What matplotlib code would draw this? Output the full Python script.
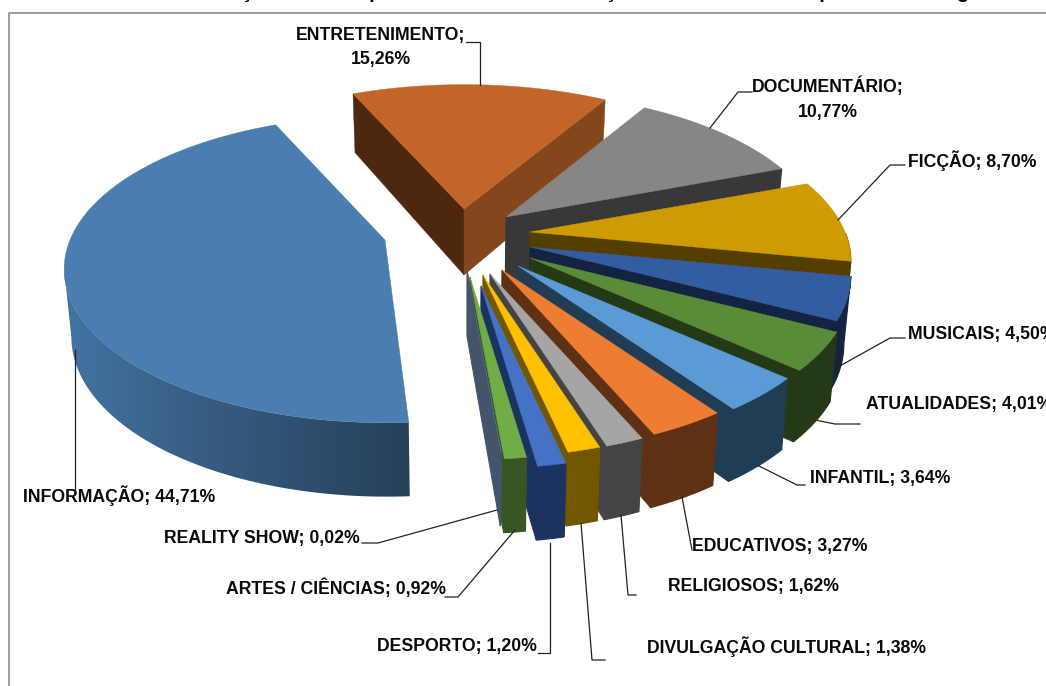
import numpy as np
import matplotlib
matplotlib.use("Agg")
import matplotlib.pyplot as plt
from matplotlib.patches import Polygon
from matplotlib.colors import LinearSegmentedColormap

categories = ["INFORMAÇÃO", "ENTRETENIMENTO", "DOCUMENTÁRIO", "FICÇÃO", "MUSICAIS",
              "ATUALIDADES", "INFANTIL", "EDUCATIVOS", "RELIGIOSOS",
              "DIVULGAÇÃO CULTURAL", "DESPORTO", "ARTES / CIÊNCIAS", "REALITY SHOW"]
values = [44.71, 15.26, 10.77, 8.70, 4.50, 4.01, 3.64, 3.27, 1.62, 1.38, 1.20, 0.92, 0.02]

top_colors = ["#4A7EB0", "#C26528", "#868686", "#CF9B00", "#345CA1", "#5A8B38", "#5B9BD5",
              "#ED7D31", "#A5A5A5", "#FFC000", "#4472C4", "#70AD47", "#5B6B80"]
wall_colors = ["#2F5272", "#84461B", "#383838", "#553F00", "#14233F", "#243916", "#213D54",
               "#5F3114", "#444444", "#725600", "#1C3360", "#375623", "#44546A"]
apexes = [(385, 240), (464, 209), (506, 217), (530, 232), (530, 247), (530, 258), (518, 266),
          (502, 270), (490, 274), (483, 275), (481, 286), (470, 277), (467, 270)]
slice_scale = [1.0, 1.015, 0.995, 1.0, 1.0, 1.0, 1.0, 1.0, 1.0, 1.0, 1.0, 1.0, 1.0]

START = 175.0
INFO_TRIM = 1.5
R, RY, K = 315.0, 148.0, 0.19
DEPTH, DEPTH_K, CONV = 66.0, 0.12, 0.018

fig = plt.figure(figsize=(10.46, 6.86), dpi=100)
ax = fig.add_axes([0, 0, 1, 1])
ax.set_xlim(0, 1046)
ax.set_ylim(686, 0)
ax.axis("off")
plt.rcParams["font.family"] = ["Liberation Sans"]


def project(apex, deg, scale):
    t = np.radians(deg)
    u, v = np.sin(t), np.cos(t)
    s = 1 / (1 + K * v)
    return apex[0] + scale * s * R * u, apex[1] - s * RY * v, v


def lower(x, y, v):
    return x - CONV * (x - 465), y + DEPTH * (1 - DEPTH_K * v)


ends = np.cumsum(values) / sum(values) * 360 + START
starts = np.concatenate([[START], ends[:-1]])
info_cmap = LinearSegmentedColormap.from_list("info", ["#4275A3", "#3A6088", "#2F5070", "#264058"])

for i in range(len(values)):
    a0, a1 = starts[i], ends[i]
    if i == 0:
        a0 += INFO_TRIM
    apex = apexes[i]
    angs = np.linspace(a0, a1, max(3, int((a1 - a0) * 1.5)))
    pts = [project(apex, a, slice_scale[i]) for a in angs]
    ax_b = lower(apex[0], apex[1], 0)

    # outer wall, only where it faces the viewer
    if i == 0:
        # silhouette: upper arc to its leftmost point, tangent to the lower arc's leftmost point
        left_up = int(np.argmin([p[0] for p in pts]))
        low_pts = [lower(*p) for p in pts]
        left_low = int(np.argmin([p[0] for p in low_pts]))
        outline = [p[:2] for p in pts[:left_up + 1]] + low_pts[left_low::-1]
        poly = Polygon(outline, closed=True, fc="none", ec="none", transform=ax.transData)
        ax.add_patch(poly)
        xs = [o[0] for o in outline]
        ys = [o[1] for o in outline]
        im = ax.imshow(np.linspace(0, 1, 256)[None, :], extent=(min(xs), max(xs), max(ys), min(ys)),
                       cmap=info_cmap, aspect="auto", zorder=2)
        im.set_clip_path(poly)
        ax.set_xlim(0, 1046)
        ax.set_ylim(686, 0)
    else:
        vis = [p for p, a in zip(pts, angs) if 90 <= (a % 360) <= 270]
        if len(vis) > 1:
            outline = [p[:2] for p in vis] + [lower(*p) for p in vis[::-1]]
            ax.add_patch(Polygon(outline, closed=True, fc=wall_colors[i], ec=wall_colors[i], lw=0.8, zorder=2))

    # cut walls
    if i == 1:
        p = pts[0]
        ax.add_patch(Polygon([apex, p[:2], lower(*p), ax_b], closed=True, fc="#4E270F", ec="#4E270F",
                             lw=0.3, zorder=2))
    if i != 0:
        p = pts[-1]
        ax.add_patch(Polygon([apex, p[:2], lower(*p), ax_b], closed=True, fc=wall_colors[i],
                             ec=wall_colors[i], lw=0.8 if i > 1 else 0.3, zorder=2))

    # top face
    ax.add_patch(Polygon([apex] + [p[:2] for p in pts], closed=True, fc=top_colors[i],
                         ec=top_colors[i], lw=0.3, zorder=2))

# chart-area frame
ax.plot([8.7, 8.7, 1046], [686, 12.7, 12.7], color="#8C8C8C", lw=1.2, solid_capstyle="butt",
        clip_on=False, zorder=1)

# title: only the descenders reach the picture
ax.text(160, -2, "Distribuição dos dias por total de horas e duração da emissão anual por todas categorias",
        fontsize=14.5, fontweight="bold", ha="left", va="baseline", color="black")

labels = [f"{c}; {v:.2f}%".replace(".", ",") for c, v in zip(categories, values)]
label_layout = {
    0: (23, 496, "left", False),
    1: (381, 47.5, "center", True),
    2: (828, 98.5, "center", True),
    3: (908, 161, "left", False),
    4: (908, 335, "left", False),
    5: (866, 404, "left", False),
    6: (810, 479, "left", False),
    7: (692, 546, "left", False),
    8: (668, 586, "left", False),
    9: (647, 647, "left", False),
    10: (377, 647, "left", False),
    11: (226, 588, "left", False),
    12: (164, 538, "left", False),
}
for i, (x, y, ha, wrap) in label_layout.items():
    txt = labels[i].replace("; ", ";\n") if wrap else labels[i]
    ax.text(x, y, txt, ha=ha, va="center", fontsize=12.7, fontweight="bold", color="#0A0A0A",
            linespacing=1.6, zorder=5)

leaders = [
    [(75, 489), (75, 350)],
    [(466, 42), (480, 42), (480, 85)],
    [(752, 92), (738, 92), (710, 128)],
    [(905, 165), (890, 165), (838, 220)],
    [(905, 338), (890, 338), (838, 367)],
    [(860, 424), (835, 424), (815, 420)],
    [(805, 485), (797, 485), (757, 465)],
    [(692, 550), (682, 497)],
    [(636, 595), (628, 595), (621, 515)],
    [(605, 660), (592, 660), (581, 523)],
    [(538, 653), (550, 653), (550, 543)],
    [(445, 597), (458, 597), (515, 530)],
    [(362, 543), (378, 543), (497, 510)],
]
for line in leaders:
    xs, ys = zip(*line)
    ax.plot(xs, ys, color="#222222", lw=0.9, zorder=4)

fig.savefig("out.png", dpi=100)
